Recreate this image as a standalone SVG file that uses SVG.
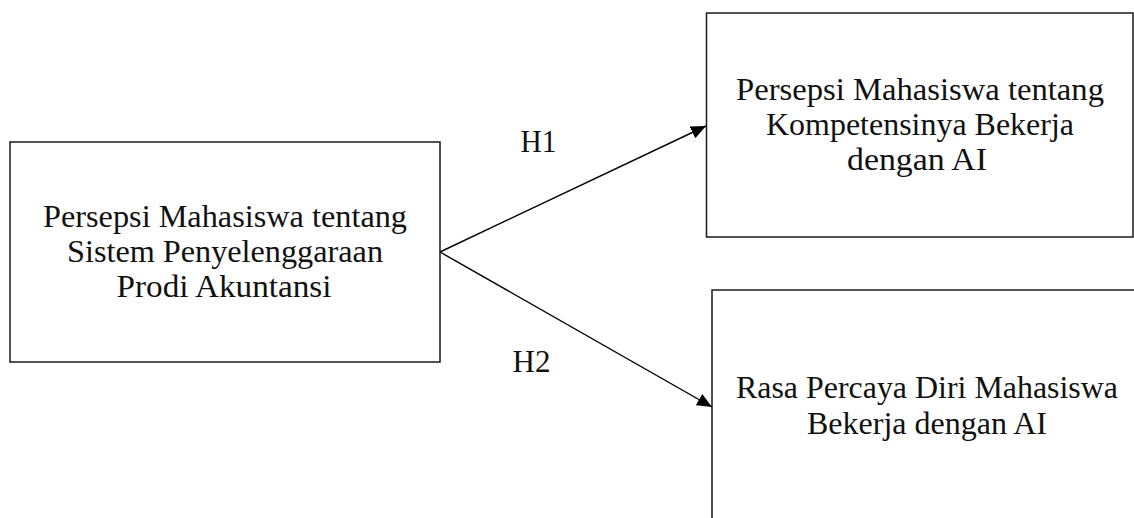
<svg xmlns="http://www.w3.org/2000/svg" width="1134" height="518" viewBox="0 0 1134 518">
  <style>
    .box { fill: #ffffff; stroke: #1a1a1a; stroke-width: 1.5; }
    .lbl { font-family: "Liberation Serif", "Times New Roman", serif; font-size: 31px; fill: #111111; text-anchor: middle; }
    .conn { stroke: #000000; stroke-width: 1.4; fill: none; }
  </style>
  <defs>
    <marker id="arrow" markerUnits="userSpaceOnUse" markerWidth="16" markerHeight="13" refX="15" refY="6.5" orient="auto">
      <path d="M0,0 L15,6.5 L0,13 z" fill="#000000"/>
    </marker>
  </defs>
  <rect width="1134" height="518" fill="#ffffff"/>

  <g id="node-source">
    <rect class="box" x="10" y="142" width="430" height="220"/>
    <text class="lbl" x="225" y="227" textLength="364" lengthAdjust="spacingAndGlyphs">Persepsi Mahasiswa tentang</text>
    <text class="lbl" x="225" y="262" textLength="316" lengthAdjust="spacingAndGlyphs">Sistem Penyelenggaraan</text>
    <text class="lbl" x="224" y="297" textLength="215" lengthAdjust="spacingAndGlyphs">Prodi Akuntansi</text>
  </g>

  <g id="node-competence">
    <rect class="box" x="706.5" y="13" width="426.5" height="224"/>
    <text class="lbl" x="920" y="100" textLength="368" lengthAdjust="spacingAndGlyphs">Persepsi Mahasiswa tentang</text>
    <text class="lbl" x="920" y="135" textLength="308" lengthAdjust="spacingAndGlyphs">Kompetensinya Bekerja</text>
    <text class="lbl" x="917" y="170" textLength="140" lengthAdjust="spacingAndGlyphs">dengan AI</text>
  </g>

  <g id="node-confidence">
    <rect class="box" x="712" y="290" width="430" height="233"/>
    <text class="lbl" x="927" y="398" textLength="382" lengthAdjust="spacingAndGlyphs">Rasa Percaya Diri Mahasiswa</text>
    <text class="lbl" x="927" y="434" textLength="240" lengthAdjust="spacingAndGlyphs">Bekerja dengan AI</text>
  </g>

  <g id="connectors">
    <line class="conn" x1="440" y1="252" x2="706" y2="126" marker-end="url(#arrow)"/>
    <line class="conn" x1="440" y1="252" x2="712" y2="407" marker-end="url(#arrow)"/>
    <text class="lbl" x="538.5" y="152" textLength="36" lengthAdjust="spacingAndGlyphs">H1</text>
    <text class="lbl" x="531.5" y="372" textLength="38" lengthAdjust="spacingAndGlyphs">H2</text>
  </g>
</svg>
